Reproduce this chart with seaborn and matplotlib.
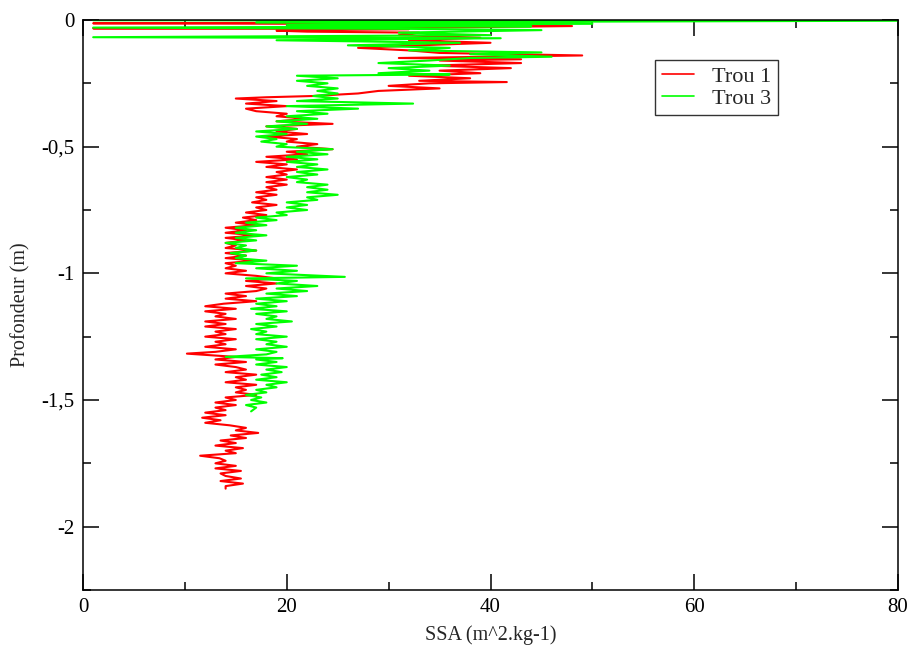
import numpy as np
import pandas as pd
import matplotlib
matplotlib.use("Agg")
import matplotlib.pyplot as plt
import seaborn as sns

# ------------------------------------------
# Data
# ------------------------------------------
depth_t1 = [-0.010, -0.013, -0.017, -0.024, -0.030, -0.033, -0.036, -0.042, -0.046, -0.050,
            -0.060, -0.070, -0.080, -0.090, -0.100, -0.110, -0.120, -0.130, -0.140, -0.150,
            -0.155, -0.160, -0.170, -0.180, -0.190, -0.200, -0.210, -0.220, -0.230, -0.240,
            -0.245, -0.250, -0.260, -0.270, -0.280, -0.290, -0.300, -0.305, -0.310, -0.320,
            -0.330, -0.340, -0.350, -0.360, -0.370, -0.380, -0.390, -0.400, -0.410, -0.420,
            -0.430, -0.440, -0.450, -0.460, -0.470, -0.480, -0.490, -0.500, -0.510, -0.520,
            -0.530, -0.540, -0.550, -0.560, -0.570, -0.580, -0.590, -0.600, -0.610, -0.620,
            -0.630, -0.640, -0.650, -0.660, -0.670, -0.680, -0.690, -0.700, -0.710, -0.720,
            -0.730, -0.740, -0.750, -0.760, -0.770, -0.780, -0.790, -0.800, -0.810, -0.820,
            -0.830, -0.840, -0.850, -0.860, -0.870, -0.880, -0.890, -0.900, -0.910, -0.920,
            -0.930, -0.940, -0.950, -0.960, -0.970, -0.980, -0.990, -1.000, -1.010, -1.020,
            -1.030, -1.040, -1.050, -1.060, -1.070, -1.080, -1.090, -1.100, -1.110, -1.120,
            -1.130, -1.140, -1.150, -1.160, -1.170, -1.180, -1.190, -1.200, -1.210, -1.220,
            -1.230, -1.240, -1.250, -1.260, -1.270, -1.280, -1.290, -1.300, -1.310, -1.317,
            -1.330, -1.340, -1.350, -1.360, -1.370, -1.380, -1.390, -1.400, -1.410, -1.420,
            -1.430, -1.440, -1.450, -1.460, -1.470, -1.480, -1.490, -1.500, -1.510, -1.520,
            -1.530, -1.540, -1.550, -1.560, -1.570, -1.580, -1.590, -1.600, -1.610, -1.620,
            -1.630, -1.640, -1.650, -1.660, -1.670, -1.680, -1.690, -1.700, -1.710, -1.720,
            -1.730, -1.740, -1.750, -1.760, -1.770, -1.780, -1.790, -1.800, -1.810, -1.820,
            -1.830, -1.840, -1.850]
ssa_t1 = [30, 1, 41, 48, 34, 1, 32, 19, 22, 33,
          31, 39, 32, 40, 33, 27, 32, 35, 49, 31,
          43, 35, 43, 34, 42, 35, 39, 32, 38, 33,
          41.6, 34, 30, 35, 29, 27, 22.6, 18, 15, 19,
          16, 20, 16, 17, 20, 19, 22, 19, 24.5, 18,
          21, 19, 22, 18, 21, 20, 23, 21, 24.5, 20,
          22, 18, 21, 17, 20, 18, 21, 19, 20, 18,
          20, 18, 20, 18, 19, 17, 19, 17, 18, 16.6,
          19, 17, 18, 16, 18, 15.7, 17, 15, 17, 14,
          16, 14, 17, 14, 16, 14, 15, 14, 17, 14,
          16, 14, 17, 14, 15, 14, 16, 14, 17, 19,
          16, 19, 16, 18, 17, 14, 16, 14, 17, 13.8,
          12, 15, 12, 14, 13, 15, 12, 14, 12, 15,
          13, 14, 12, 15, 13, 14, 12, 15, 13, 10.2,
          15, 13, 16, 13, 15, 16, 14, 17, 15, 16,
          14, 17, 15, 16, 15, 17, 14, 15, 13, 15,
          13, 14, 12, 14, 11.7, 13.5, 12, 14.4, 16, 15,
          17.2, 14.5, 16, 13.5, 15, 13, 15.7, 14, 15, 11.5,
          13.4, 14, 13, 15, 13, 15.5, 13.5, 14, 15.5, 13.5,
          15.7, 14, 14]

depth_t3 = [-0.001, -0.003, -0.010, -0.015, -0.020, -0.025, -0.030, -0.035, -0.040, -0.050,
            -0.060, -0.068, -0.072, -0.080, -0.090, -0.100, -0.110, -0.120, -0.128, -0.135,
            -0.145, -0.150, -0.160, -0.170, -0.180, -0.190, -0.200, -0.210, -0.215, -0.220,
            -0.230, -0.240, -0.250, -0.260, -0.270, -0.280, -0.290, -0.300, -0.310, -0.320,
            -0.330, -0.340, -0.350, -0.360, -0.370, -0.380, -0.390, -0.400, -0.410, -0.420,
            -0.430, -0.440, -0.450, -0.460, -0.470, -0.480, -0.490, -0.500, -0.510, -0.520,
            -0.530, -0.540, -0.550, -0.560, -0.570, -0.580, -0.590, -0.600, -0.610, -0.620,
            -0.630, -0.640, -0.650, -0.660, -0.670, -0.680, -0.690, -0.700, -0.710, -0.720,
            -0.730, -0.740, -0.750, -0.760, -0.770, -0.780, -0.790, -0.800, -0.810, -0.820,
            -0.830, -0.840, -0.850, -0.860, -0.870, -0.880, -0.890, -0.900, -0.910, -0.920,
            -0.930, -0.940, -0.950, -0.960, -0.970, -0.980, -0.990, -1.000, -1.014, -1.020,
            -1.030, -1.040, -1.050, -1.060, -1.070, -1.080, -1.090, -1.100, -1.110, -1.120,
            -1.130, -1.140, -1.150, -1.160, -1.170, -1.180, -1.190, -1.200, -1.210, -1.220,
            -1.230, -1.240, -1.250, -1.260, -1.270, -1.280, -1.290, -1.300, -1.310, -1.320,
            -1.330, -1.335, -1.340, -1.350, -1.360, -1.370, -1.380, -1.390, -1.400, -1.410,
            -1.420, -1.430, -1.440, -1.450, -1.460, -1.470, -1.480, -1.490, -1.500, -1.510,
            -1.520, -1.530, -1.545]
ssa_t3 = [1, 80, 17, 50, 20, 44, 1, 32, 45, 31,
          40, 1, 41, 19, 37, 26, 36, 32, 45, 38,
          46, 38, 34, 29, 36, 30, 34, 29, 36, 21,
          25, 21, 24, 22, 25, 23, 25, 22.6, 25, 21,
          32.4, 20, 27, 21, 24, 20, 23, 19, 22, 18,
          21, 17, 20, 17, 19, 17.5, 20, 19, 24.5, 21,
          24, 20, 23, 20, 23, 21, 24, 21, 23, 20,
          22, 21, 24, 22, 24, 22, 25, 22, 23, 20,
          22, 20, 22, 19, 20, 17, 19, 16, 18, 15,
          17, 15, 18, 15, 17, 14, 16, 15, 17, 14.5,
          16, 15, 18, 15, 21, 17, 21, 18, 25.7, 16,
          21, 19, 23, 19, 22, 18, 21, 17, 20, 17,
          19, 16.5, 20, 17, 19, 18, 20.5, 17, 19, 16.5,
          18, 17, 20, 17, 19, 18, 20, 17, 19, 18,
          14, 19.6, 17, 19, 17, 20, 18, 19.5, 17.5, 19,
          17, 20, 18, 19, 17, 18, 16, 17.5, 16.5, 18,
          16, 17, 16.5]

labels = ["Trou 1", "Trou 3"]
colors = {"Trou 1": "#ff0000", "Trou 3": "#00ff00"}

df = pd.concat([
    pd.DataFrame({"ssa": ssa_t1, "depth": depth_t1, "trou": labels[0]}),
    pd.DataFrame({"ssa": ssa_t3, "depth": depth_t3, "trou": labels[1]}),
], ignore_index=True)

# ------------------------------------------
# Plot
# ------------------------------------------
sns.set_style("white")
plt.rcParams["font.family"] = ["Liberation Serif", "DejaVu Serif"]

fig = plt.figure(figsize=(9.13, 6.45), dpi=100)
ax = fig.add_axes([0.0909, 0.0853, 0.8927, 0.8837])

sns.lineplot(data=df, x="ssa", y="depth", hue="trou", palette=colors,
             sort=False, estimator=None, linewidth=1.5, ax=ax)

ax.set_xlim(0, 80)
ax.set_ylim(-2.25, 0)

ax.set_xticks([0, 20, 40, 60, 80])
ax.set_xticks([10, 30, 50, 70], minor=True)
ax.set_xticklabels(["0", "20", "40", "60", "80"])
ax.set_yticks([-2, -1.5, -1, -0.5, 0])
ax.set_yticks([-2.25, -1.75, -1.25, -0.75, -0.25], minor=True)
ax.set_yticklabels(["-2", "-1,5", "-1", "-0,5", "0"])

ax.tick_params(which="both", direction="in", top=True, right=True,
               bottom=True, left=True,
               labelsize=15, width=1.1, colors="black")
ax.tick_params(which="major", length=11.5, pad=6)
ax.tick_params(which="minor", length=6)

for sp in ax.spines.values():
    sp.set_color("black")
    sp.set_linewidth(1.1)

ax.set_xlabel("SSA (m^2.kg-1)", fontsize=14.5, labelpad=6)
ax.set_ylabel("Profondeur (m)", fontsize=14.5, labelpad=8)

leg = ax.legend(loc="upper left", bbox_to_anchor=(0.702, 0.93), fontsize=16,
                frameon=True, fancybox=False, handlelength=1.45,
                borderpad=0.3, labelspacing=0.05, handletextpad=0.8,
                borderaxespad=0)
leg.get_frame().set_edgecolor("black")
leg.get_frame().set_linewidth(1.0)
for line in leg.get_lines():
    line.set_linewidth(1.2)

fig.savefig("out.png", dpi=100)
